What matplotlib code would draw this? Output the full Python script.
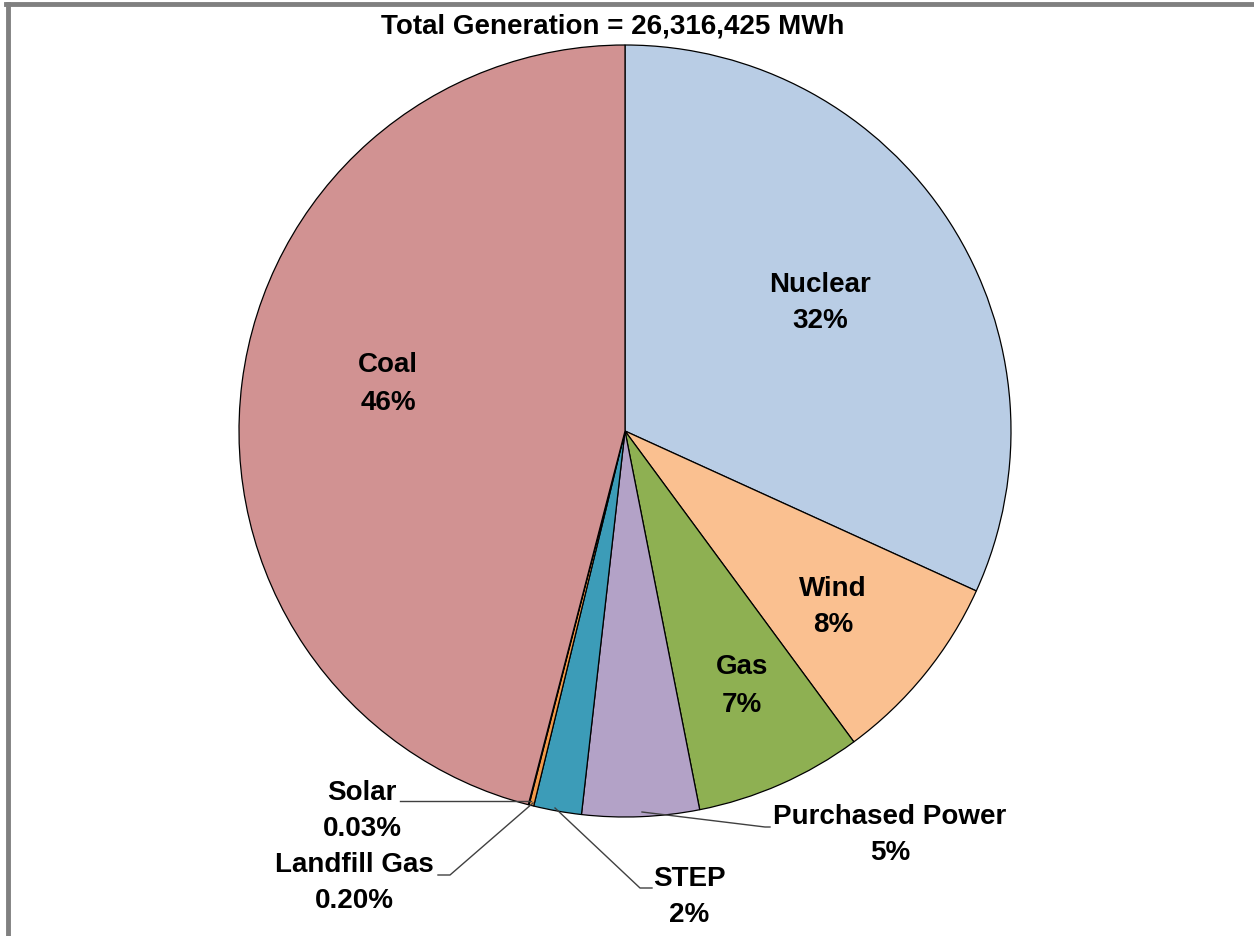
import matplotlib
matplotlib.use('Agg')
import matplotlib.pyplot as plt
from matplotlib.lines import Line2D

plt.rcParams['font.family'] = ['Liberation Sans', 'DejaVu Sans']

# slices, clockwise from 12 o'clock
sources = ['Nuclear', 'Wind', 'Gas', 'Purchased Power', 'STEP', 'Landfill Gas', 'Solar', 'Coal']
shares = [31.8, 8.1, 7.0, 4.9, 2.0, 0.20, 0.03, 45.97]
pct_labels = ['32%', '8%', '7%', '5%', '2%', '0.20%', '0.03%', '46%']
colors = ['#B9CDE5', '#FAC090', '#8EB052', '#B3A2C7', '#3C9CB8', '#F29A4A', '#E07B30', '#D19292']

title = 'Total Generation = 26,316,425 MWh'

W, H = 1254, 936
fig = plt.figure(figsize=(W / 100, H / 100), dpi=100)
ax = fig.add_axes([0, 0, 1, 1])

cx, cy, r = 625, H - 431, 386
wedges, _ = ax.pie(shares, colors=colors, startangle=90, counterclock=False,
                   center=(cx, cy), radius=r, frame=True,
                   wedgeprops=dict(edgecolor='black', linewidth=0.9))
ax.set_xlim(0, W)
ax.set_ylim(0, H)
ax.set_aspect('equal')
ax.axis('off')

# label positions in pixel coords (from top), and leader lines
label_pos = {
    'Nuclear': (820, 303),
    'Wind': (833, 607),
    'Gas': (742, 686),
    'Purchased Power': (890, 835),
    'STEP': (689, 897),
    'Landfill Gas': (354, 883),
    'Solar': (362, 811),
    'Coal': (388, 384),
}
leaders = {
    'Purchased Power': [(642, 812), (765, 827), (770, 827)],
    'STEP': [(555, 808), (640, 888), (652, 888)],
    'Landfill Gas': [(533, 803), (450, 875), (438, 875)],
    'Solar': [(531, 801), (400, 801)],
}

for name, pct in zip(sources, pct_labels):
    x, y = label_pos[name]
    ax.text(x, H - y, f'{name}\n{pct}', ha='center', va='center',
            fontsize=20, fontweight='bold', color='black', linespacing=1.55)

for name, pts in leaders.items():
    xs = [p[0] for p in pts]
    ys = [H - p[1] for p in pts]
    ax.plot(xs, ys, color='#404040', linewidth=1.0)

ax.text(613, H - 27, title, ha='center', va='center', fontsize=20, fontweight='bold')

# gray frame (top and left)
fig.add_artist(Line2D([6 / W, 1], [1 - 4 / H, 1 - 4 / H], color='#808080', linewidth=3.5))
fig.add_artist(Line2D([8 / W, 8 / W], [0, 1 - 4 / H], color='#808080', linewidth=3.5))

fig.savefig('out.png', dpi=100, facecolor='white')
